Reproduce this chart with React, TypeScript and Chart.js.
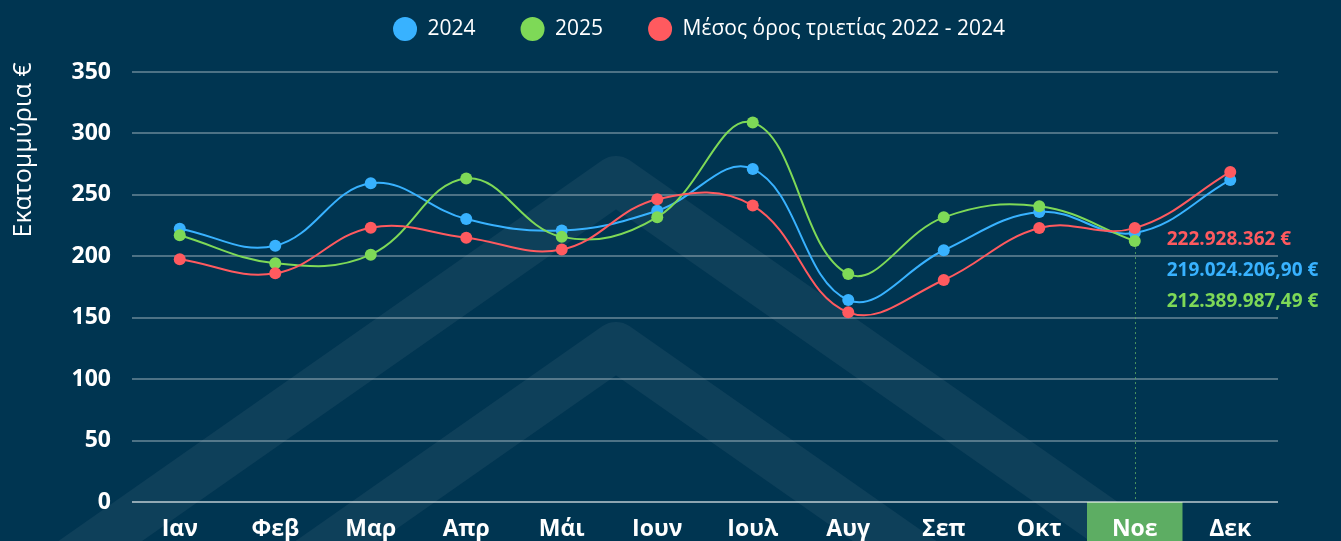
import React, { useEffect, useRef } from 'react';
import { Chart, registerables } from 'chart.js';

Chart.register(...registerables);

// ---- data ----
const months = ['Ιαν', 'Φεβ', 'Μαρ', 'Απρ', 'Μάι', 'Ιουν', 'Ιουλ', 'Αυγ', 'Σεπ', 'Οκτ', 'Νοε', 'Δεκ'];
const values2024 = [222.5, 208.6, 259.4, 230.3, 221.0, 237.1, 271.1, 164.4, 204.9, 236.0, 219.024, 262.1];
const values2025 = [217.1, 194.3, 201.3, 263.4, 215.8, 231.8, 308.8, 185.6, 231.7, 240.7, 212.39, null];
const valuesAvg = [197.6, 186.2, 223.3, 215.1, 205.5, 246.5, 241.3, 154.4, 180.7, 223.0, 222.928, 268.7];
const seriesNames = ['2024', '2025', 'Μέσος όρος τριετίας 2022 - 2024'];
const seriesColors = ['#38b2ff', '#7ed957', '#ff5a5f'];
const yMin = 0;
const yMax = 350;
const yStep = 50;
const yTitle = 'Εκατομμύρια €';
const highlightIndex = 10;
const highlightLabels = ['222.928.362 €', '219.024.206,90 €', '212.389.987,49 €'];
const highlightLabelSeries = [2, 0, 1];

const BG = '#003551';
const FONT = "'Open Sans', sans-serif";

const decorPlugin = {
  id: 'decor',
  beforeDraw(chart: any) {
    const { ctx, width, height, chartArea, scales } = chart;
    ctx.save();
    ctx.fillStyle = BG;
    ctx.fillRect(0, 0, width, height);
    // watermark chevrons
    ctx.strokeStyle = 'rgba(255,255,255,0.055)';
    ctx.lineWidth = 48;
    ctx.lineJoin = 'round';
    ctx.lineCap = 'butt';
    const cx = 616;
    const slope = 0.7;
    for (const py of [180, 346]) {
      ctx.beginPath();
      ctx.moveTo(cx - 800, py + slope * 800);
      ctx.lineTo(cx, py);
      ctx.lineTo(cx + 800, py + slope * 800);
      ctx.stroke();
    }
    // highlighted category box
    const x = scales.x;
    const cw = (chartArea.right - chartArea.left) / months.length;
    const hx = x.getPixelForValue(highlightIndex);
    ctx.fillStyle = '#5dad63';
    ctx.fillRect(hx - cw / 2, chartArea.bottom, cw, height - chartArea.bottom);
    ctx.restore();
  },
  beforeDatasetsDraw(chart: any) {
    const { ctx, chartArea } = chart;
    const meta = chart.getDatasetMeta(1);
    const pt = meta.data[highlightIndex];
    if (!pt) return;
    ctx.save();
    ctx.strokeStyle = 'rgba(93,173,99,0.8)';
    ctx.lineWidth = 1;
    ctx.setLineDash([2, 3]);
    ctx.beginPath();
    ctx.moveTo(Math.round(pt.x) + 0.5, pt.y + 6);
    ctx.lineTo(Math.round(pt.x) + 0.5, chartArea.bottom);
    ctx.stroke();
    ctx.restore();
  },
  afterDraw(chart: any) {
    const { ctx } = chart;
    ctx.save();
    // y title
    ctx.translate(24, 150);
    ctx.rotate(-Math.PI / 2);
    ctx.font = `25px ${FONT}`;
    ctx.fillStyle = '#ffffff';
    ctx.textAlign = 'center';
    ctx.textBaseline = 'middle';
    ctx.fillText(yTitle, 0, 0);
    ctx.restore();
    // highlight value labels
    const ref = chart.getDatasetMeta(1).data[highlightIndex];
    if (!ref) return;
    ctx.save();
    ctx.font = `bold 19px ${FONT}`;
    ctx.textAlign = 'left';
    ctx.textBaseline = 'middle';
    highlightLabels.forEach((t, i) => {
      ctx.fillStyle = seriesColors[highlightLabelSeries[i]];
      ctx.fillText(t, ref.x + 32, ref.y - 1 + i * 31);
    });
    ctx.restore();
  },
};

export default function App() {
  const canvasRef = useRef<HTMLCanvasElement | null>(null);

  useEffect(() => {
    if (!canvasRef.current) return;
    const seriesData = [values2024, values2025, valuesAvg];
    const order = [2, 1, 0];
    const chart = new Chart(canvasRef.current, {
      type: 'line',
      data: {
        labels: months,
        datasets: seriesData.map((d, i) => ({
          label: seriesNames[i],
          data: d,
          borderColor: seriesColors[i],
          backgroundColor: seriesColors[i],
          pointBackgroundColor: seriesColors[i],
          pointBorderColor: seriesColors[i],
          pointBorderWidth: 0,
          pointRadius: 6,
          pointHoverRadius: 6,
          borderWidth: 2,
          tension: 0.4,
          order: order[i],
          spanGaps: false,
        })),
      },
      options: {
        responsive: false,
        animation: false,
        events: [],
        layout: { autoPadding: false, padding: { top: -26.5, left: 0, right: -57, bottom: 0 } },
        plugins: {
          legend: {
            position: 'top',
            labels: {
              usePointStyle: true,
              pointStyle: 'circle',
              pointStyleWidth: 24,
              boxHeight: 17,
              padding: 45,
              color: '#ffffff',
              font: { family: FONT, size: 21 },
              sort: (a: any, b: any) => a.datasetIndex - b.datasetIndex,
            },
          },
          tooltip: { enabled: false },
        },
        scales: {
          x: {
            type: 'category',
            offset: true,
            grid: { display: false },
            border: { display: false },
            ticks: { color: '#ffffff', font: { family: FONT, size: 23, weight: 'bold' }, padding: 6, maxRotation: 0, autoSkip: false },
            afterFit: (s: any) => { s.height = 39; },
          },
          xTop: {
            type: 'category',
            position: 'top',
            grid: { display: false },
            border: { display: false },
            ticks: { display: false },
            afterFit: (s: any) => { s.height = 22.5; },
          },
          y: {
            min: yMin,
            max: yMax,
            ticks: { stepSize: yStep, color: '#ffffff', font: { family: FONT, size: 23, weight: 'bold' }, padding: 21 },
            grid: {
              drawTicks: false,
              lineWidth: 2,
              color: (c: any) => (c.tick && c.tick.value === 0 ? 'rgba(255,255,255,0.55)' : 'rgba(255,255,255,0.3)'),
            },
            border: { display: false },
            afterFit: (s: any) => { s.width = 132; },
          },
          yRight: {
            type: 'linear',
            position: 'right',
            min: yMin,
            max: yMax,
            grid: { display: false },
            border: { display: false },
            ticks: { display: false },
            afterFit: (s: any) => { s.width = 120; },
          },
        },
      },
      plugins: [decorPlugin],
    } as any);
    return () => chart.destroy();
  }, []);

  return (
    <div style={{ position: 'fixed', left: 0, top: 0, width: 1341, height: 541, background: BG }}>
      <canvas ref={canvasRef} width={1341} height={541} style={{ display: 'block' }} />
    </div>
  );
}
